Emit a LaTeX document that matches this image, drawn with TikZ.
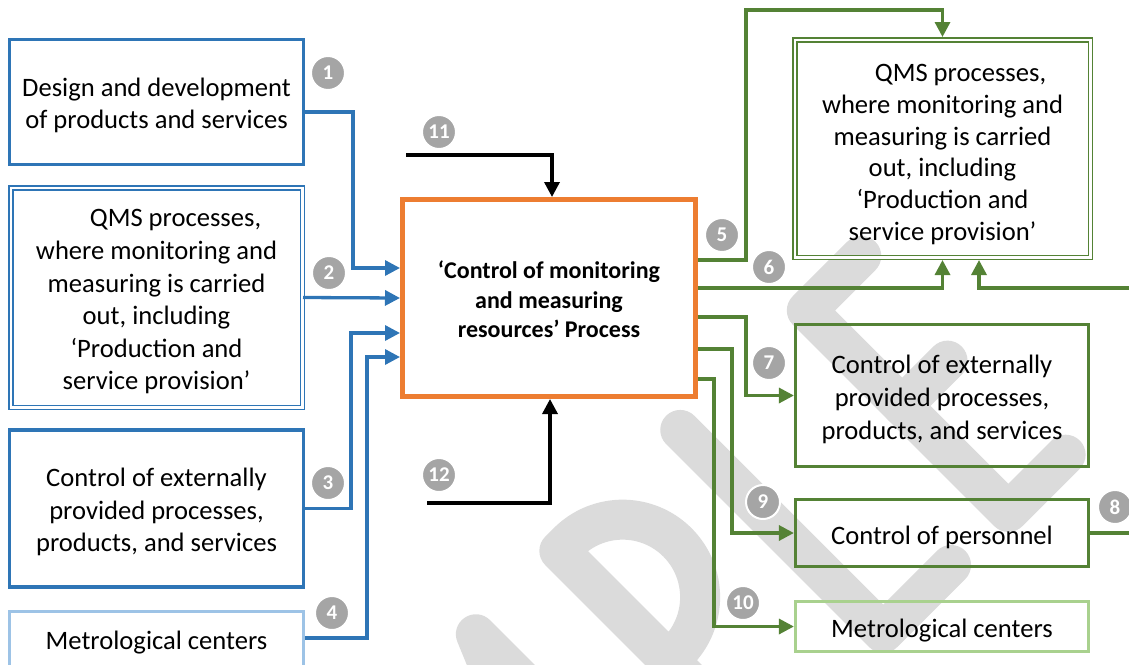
\documentclass[tikz,border=0pt]{standalone}
\usepackage{fontspec}
\setmainfont{Carlito}
\usetikzlibrary{arrows.meta,calc}
\definecolor{boxblue}{HTML}{2E75B6}
\definecolor{lightblue}{HTML}{9DC3E6}
\definecolor{procorange}{HTML}{ED7D31}
\definecolor{boxgreen}{HTML}{548235}
\definecolor{lightgreen}{HTML}{A9D18E}
\definecolor{badgegray}{HTML}{A5A5A5}
\definecolor{markgray}{RGB}{219,219,219}
\begin{document}
\begin{tikzpicture}[x=1pt,y=-1pt,
  box/.style={draw, line width=3.2pt, inner sep=0pt},
  dbox/.style={draw, line width=1.5pt, double=white, double distance=2.5pt, inner sep=0pt},
  txt/.style={inner sep=0pt, align=center, font=\fontsize{26.6}{32.6}\selectfont},
  tip/.style={-{Triangle[length=15pt,width=15pt]}},
  bline/.style={boxblue, line width=3.3pt, tip},
  gline/.style={boxgreen, line width=3.3pt, tip},
  kline/.style={black, line width=3.4pt, tip},
  badge/.style={circle, fill=badgegray, draw=white, line width=2pt,
    minimum size=34pt, inner sep=0pt, text=white,
    font=\bfseries\fontsize{21}{21}\selectfont},
  wmstroke/.style={markgray, line width=40pt, line cap=round, line join=round}]
\useasboundingbox (0,0) rectangle (1129,664);
\clip (0,0) rectangle (1129,664);

% background lettering, drawn along a rising diagonal
\begin{scope}[x={(0.7071pt,0.7071pt)}, y={(-0.7071pt,0.7071pt)}]
  \draw[wmstroke] (-292,-1072) -- (-292,-785) -- (-202,-1000) -- (-112,-785) -- (-112,-1072);
  \draw[wmstroke] (6,-1072) -- (6,-785) -- (18,-785) arc (90:-90:77.5) -- (6,-940);
  \draw[wmstroke] (177,-785) -- (177,-1072) -- (273,-1072);
  \draw[wmstroke] (428,-790) -- (351,-790) -- (351,-1075) -- (432,-1075);
  \draw[wmstroke] (351,-925) -- (415,-925);
\end{scope}

% left column
\node[box, draw=boxblue, minimum width=294pt, minimum height=124.5pt] (d1) at (156.5,102) {};
\node[txt] (d1-t) at ([yshift=-3.5pt]d1.center)
  {Design and development\\of products and services};
\node[dbox, draw=boxblue, minimum width=291.5pt, minimum height=219.5pt] (q1) at (156.5,297.5) {};
\node[txt] (q1-t) at ([yshift=-4.5pt]q1.center)
  {\hspace*{38pt}QMS processes,\\where monitoring and\\measuring is carried\\out, including\\‘Production and\\service provision’};
\node[box, draw=boxblue, minimum width=294pt, minimum height=157pt] (c1) at (156.5,508.5) {};
\node[txt] (c1-t) at ([yshift=-3.5pt]c1.center)
  {Control of externally\\provided processes,\\products, and services};
\node[box, draw=lightblue, minimum width=294pt, minimum height=58.5pt] (m1) at (156.5,640.75) {};
\node[txt] (m1-t) at ([yshift=-2pt]m1.center) {Metrological centers};

% central process
\node[draw=procorange, line width=4.5pt, minimum width=293.5pt, minimum height=197.5pt,
  inner sep=0pt] (main) at (549,298) {};
\draw[procorange, line width=1pt] ([shift={(4.3pt,-4.3pt)}]main.north west)
  rectangle ([shift={(-4.3pt,4.3pt)}]main.south east);
\node[txt, font=\bfseries\fontsize{24}{29.5}\selectfont] (main-t) at ([yshift=-1.5pt]main.center)
  {‘Control of monitoring\\and measuring\\resources’ Process};

% right column
\node[dbox, draw=boxgreen, minimum width=295.5pt, minimum height=217.5pt] (q2) at (942.5,148.5) {};
\node[txt, font=\fontsize{26.6}{31.9}\selectfont] (q2-t) at ([yshift=-6pt]q2.center)
  {\hspace*{36pt}QMS processes,\\where monitoring and\\measuring is carried\\out, including\\‘Production and\\service provision’};
\node[box, draw=boxgreen, minimum width=293pt, minimum height=142pt] (c2) at (942,395.5) {};
\node[txt] (c2-t) at ([yshift=-4pt]c2.center)
  {Control of externally\\provided processes,\\products, and services};
\node[box, draw=boxgreen, minimum width=293pt, minimum height=67pt] (p2) at (942,533) {};
\node[txt] (p2-t) at ([yshift=-4pt]p2.center) {Control of personnel};
\node[box, draw=lightgreen, minimum width=293pt, minimum height=50pt] (m2) at (942,626.5) {};
\node[txt] (m2-t) at ([yshift=-4pt]m2.center) {Metrological centers};

% bend points and free ends
\coordinate (b1) at (353,0);
\coordinate (b3) at (351,0);
\coordinate (b4) at (367,0);
\coordinate (in1) at ([yshift=30pt]main.west);
\coordinate (in3) at ([yshift=-35pt]main.west);
\coordinate (in4) at ([yshift=-59pt]main.west);
\coordinate (s11) at (406,155);
\coordinate (s12) at (427,503);
\coordinate (t5) at (746,10);
\coordinate (r8) at (1140,288);
\coordinate (b7) at (746,0);
\coordinate (b9) at (732,0);
\coordinate (b10) at (714,0);

% inputs
\draw[bline] ([yshift=-10pt]d1.east) -| (b1 |- in1) -- (in1);
\draw[bline] (q1.east) -- (main.west);
\draw[bline] (c1.east) -| (b3 |- in3) -- (in3);
\draw[bline] ([yshift=2.75pt]m1.east) -| (b4 |- in4) -- (in4);
\draw[kline] (s11) -| ([xshift=3pt]main.north);
\draw[kline] (s12) -| ([xshift=1pt]main.south);

% outputs
\draw[gline] ([yshift=38pt]main.east) -| (t5) -| ([yshift=2pt]q2.north);
\draw[gline] ([yshift=10pt]main.east) -| ([yshift=-2pt]q2.south);
\draw[gline] (p2.east) -| (r8) -| ([xshift=36.5pt,yshift=-2pt]q2.south);
\draw[gline] ([yshift=-19pt]main.east) -| (b7 |- c2.west) -- (c2.west);
\draw[gline] ([yshift=-51pt]main.east) -| (b9 |- p2.west) -- (p2.west);
\draw[gline] ([yshift=-81pt]main.east) -| (b10 |- m2.west) -- (m2.west);

% step numbers
\node[badge] (n1) at (328,73) {1};
\node[badge] (n2) at (329,273) {2};
\node[badge] (n3) at (328,483) {3};
\node[badge] (n4) at (332,613) {4};
\node[badge] (n5) at (722,235) {5};
\node[badge] (n6) at (769,267) {6};
\node[badge] (n7) at (769,363) {7};
\node[badge] (n8) at (1115,507) {8};
\node[badge] (n9) at (763,502) {9};
\node[badge] (n10) at (743,603) {10};
\node[badge] (n11) at (439,132) {11};
\node[badge] (n12) at (439,475) {12};
\end{tikzpicture}
\end{document}
